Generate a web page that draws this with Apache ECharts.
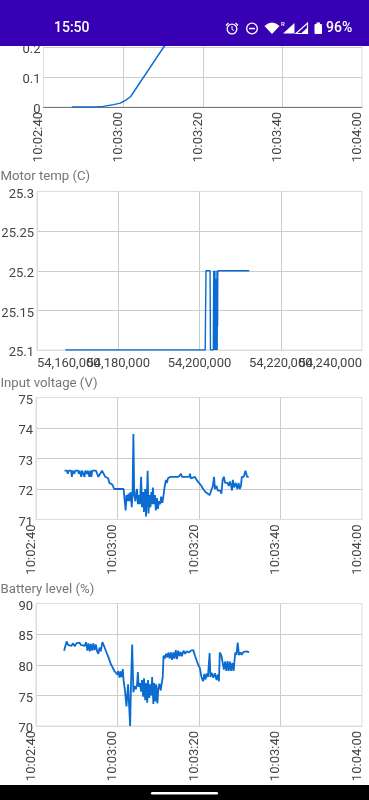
<!DOCTYPE html>
<html><head><meta charset="utf-8">
<style>html,body{margin:0;padding:0;background:#fff}#c{width:369px;height:800px}</style>
<script src="https://cdn.jsdelivr.net/npm/echarts@6/dist/echarts.min.js"></script>
</head><body><div id="c"></div>
<script>
const baseMs = 54160000;
const clockTicks = ['10:02:40','10:03:00','10:03:20','10:03:40','10:04:00'];
const msTicks = ['54,160,000','54,180,000','54,200,000','54,220,000','54,240,000'];
const titles = ['Motor temp (C)','Input voltage (V)','Battery level (%)'];

// [seconds after 10:02:40, value]
const topSeries = [[7.1,0],[13.4,0],[15,0.002],[17.6,0.008],[19.3,0.013],[20.6,0.022],[21.9,0.035],[30.2,0.2],[31,0.215],[36,0.31]];
const motorTemp = [[7,25.1],[41.4,25.1],[41.6,25.2],[42.6,25.2],[42.7,25.1],[43.4,25.1],[43.5,25.2],[43.65,25.1],[43.8,25.2],[43.9,25.1],[44,25.19],[44.05,25.1],[44.1,25.19],[44.15,25.1],[44.2,25.19],[44.25,25.1],[44.3,25.2],[44.35,25.1],[44.4,25.2],[44.45,25.13],[44.5,25.2],[52.25,25.2]];
const voltage = [[7,72.6],[7.6,72.6],[7.8,72.5],[8,72.6],[8.6,72.6],[8.8,72.4],[9,72.6],[9.4,72.5],[9.6,72.6],[10.3,72.6],[10.5,72.5],[10.7,72.6],[11.1,72.4],[11.3,72.6],[11.9,72.4],[12.1,72.6],[12.5,72.5],[12.7,72.6],[13.1,72.4],[13.3,72.6],[13.6,72.4],[13.8,72.6],[14.7,72.6],[15,72.5],[15.3,72.4],[15.7,72.45],[16.2,72.6],[17,72.4],[17.7,72.35],[18,72.2],[18.4,72.2],[18.7,72.15],[19,72.1],[19.2,72],[19.5,71.95],[20.2,72],[21.5,72],[21.7,71.7],[22,71.3],[22.2,71.8],[22.5,71.6],[22.7,71.85],[23,71.6],[23.2,71.9],[23.5,71.4],[23.7,71.9],[23.9,73.8],[24.1,71.8],[24.4,71.6],[24.6,71.9],[24.8,72.0],[25,71.5],[25.3,71.8],[25.5,71.5],[25.8,72.4],[26,71.4],[26.3,71.9],[26.5,71.25],[26.8,72],[27,71.1],[27.2,71.7],[27.4,72.6],[27.6,71.2],[27.9,71.8],[28.1,71.4],[28.3,71.9],[28.5,71.5],[28.7,72.05],[28.9,71.5],[29.2,71.8],[29.4,71.3],[29.7,71.7],[29.9,71.35],[30.2,71.6],[30.5,71.5],[30.7,71.75],[31,71.55],[31.2,71.7],[31.4,71.65],[31.6,72.1],[31.9,72.3],[32.1,72.2],[32.4,72.35],[33,72.4],[34.4,72.4],[34.6,72.35],[35,72.4],[35.4,72.4],[35.6,72.5],[35.8,72.4],[37.6,72.4],[37.8,72.5],[38,72.35],[39,72.4],[39.4,72.3],[40,72.2],[40.6,72.1],[41,72],[41.6,71.9],[42,71.85],[42.6,71.8],[43,71.95],[43.4,72.1],[43.7,72.4],[43.9,72],[44.3,72.1],[44.6,71.95],[45.2,71.95],[45.5,71.85],[45.8,72.3],[46.1,72.4],[46.4,72.2],[47,72.2],[47.3,72.1],[47.6,72.25],[47.9,72.1],[48.1,71.95],[48.3,72.3],[48.6,72.05],[49,72.2],[49.4,72],[49.7,72.2],[50,72],[50.3,72.1],[50.5,72.4],[51,72.4],[51.4,72.6],[51.8,72.4],[52.2,72.4]];
const battery = [[6.9,82.3],[7.5,83.8],[7.9,83.2],[8.3,83.5],[8.7,83.1],[9.1,83.5],[9.5,83],[9.9,83.5],[10.3,83.2],[10.7,83.6],[11.1,83.2],[11.5,83.5],[12,83.1],[12.3,83.7],[12.6,82.3],[12.9,83.5],[13.2,82.2],[13.5,83.4],[13.8,82.3],[14.1,83.5],[14.4,82.4],[14.7,83.3],[15,82.2],[15.3,81.8],[15.6,82.8],[15.9,82.2],[16.3,83.7],[16.8,82.9],[17.3,82],[17.8,81.2],[18.3,80.2],[18.7,79.7],[19,79.6],[19.3,78.9],[19.7,78.8],[20,78.4],[20.2,79],[20.5,77.9],[20.8,78.9],[21,78],[21.3,79.3],[21.5,77.4],[21.8,76],[22.2,73.2],[22.6,76.8],[23,77],[23.1,70],[23.3,76.5],[23.6,83.3],[23.9,75.5],[24.2,76.5],[24.5,76],[24.8,76.8],[25,78.8],[25.2,76.4],[25.5,77],[25.8,75.6],[26,77.5],[26.3,74.8],[26.5,77.8],[26.8,74.2],[27,77],[27.3,73.8],[27.5,77.5],[27.8,74.6],[28,76.8],[28.3,75],[28.5,78],[28.8,73.6],[29,77],[29.3,74],[29.5,76.8],[29.8,73.7],[30,76],[30.3,76.9],[30.6,75.8],[31,75.8],[31.1,78],[31.3,81.5],[31.6,81],[31.9,81.8],[32.2,81.2],[32.5,82],[32.8,81],[33.1,82],[33.4,80.8],[33.7,82],[34,81],[34.3,82.4],[34.6,80.9],[34.9,82.3],[35.2,81.4],[35.5,82.1],[35.8,81.4],[36.2,82.3],[36.6,81.8],[37,82.2],[37.5,82],[38,82.3],[38.6,82.4],[39,81.5],[39.8,80],[40.2,79.5],[40.6,78],[41,77.3],[41.3,78.5],[41.6,77.6],[41.9,78.6],[42.2,78],[42.4,78.3],[42.6,81.9],[42.8,78],[43.1,78.7],[43.5,77.9],[43.9,78.6],[44.3,77.5],[44.6,78.4],[44.9,77.3],[45.1,82],[45.5,81.5],[45.9,80],[46.1,79.2],[46.4,80.5],[46.7,79],[47,80.6],[47.3,79],[47.6,80.5],[47.9,79],[48.2,80.3],[48.5,79],[48.9,82],[49.2,81.6],[49.5,83.6],[49.8,81.6],[50.2,82],[50.5,81.6],[50.9,82.1],[51.2,81.8],[51.7,82.2],[52.3,82]];

const ink = '#444444', grid = '#cccccc', edge = '#dddddd', blue = '#0a6bd0';
const font = 'Roboto';
const layout = [
  {left:43.5, top:-43,   width:318.5, height:150,   min:0,    max:0.5,  interval:0.1,  data:topSeries, ticks:clockTicks, axisLine:'#777777', lw:1.4},
  {left:37,   top:191.5, width:325,   height:158.5, min:25.1, max:25.3, interval:0.05, data:motorTemp, ticks:msTicks,    axisLine:edge, lw:1.4},
  {left:36,   top:397.5, width:326,   height:122,   min:71,   max:75,   interval:1,    data:voltage,   ticks:clockTicks, axisLine:edge, lw:1.8},
  {left:36,   top:603.5, width:326,   height:122.5, min:70,   max:90,   interval:5,    data:battery,   ticks:clockTicks, axisLine:edge, lw:1.8}
];
const tickIdx = v => Math.round((v-baseMs)/20000);
const flatLabel = {show:true,color:ink,fontSize:13,fontFamily:font,margin:7,hideOverlap:false,alignMinLabel:'left',alignMaxLabel:'right'};

const xAxes = layout.map((g,i) => ({
  type:'value', gridIndex:i, position:'bottom', min:baseMs, max:baseMs+80000, interval:20000,
  axisLine:{show:true,lineStyle:{color:g.axisLine,width:1},onZero:false},
  axisTick:{show:false},
  splitLine:{show:true,showMinLine:false,showMaxLine:false,lineStyle:{color:grid,width:1}},
  axisLabel: g.ticks===msTicks
    ? Object.assign({},flatLabel,{formatter:v => tickIdx(v)%2===0 ? g.ticks[tickIdx(v)] : ''})
    : {show:true,color:ink,fontSize:13,fontFamily:font,margin:5,rotate:90,verticalAlign:'bottom',lineHeight:9,hideOverlap:false,showMinLabel:true,showMaxLabel:true,
       formatter:v => g.ticks[tickIdx(v)]}
}));
// second bottom axis on the motor chart: carries the labels that overlap the end labels
xAxes.push({
  type:'value', gridIndex:1, position:'bottom', min:baseMs, max:baseMs+80000, interval:20000,
  axisLine:{show:false}, axisTick:{show:false}, splitLine:{show:false},
  axisLabel:Object.assign({},flatLabel,{formatter:v => tickIdx(v)%2===1 ? msTicks[tickIdx(v)] : ''})
});

const option = {
  animation:false,
  backgroundColor:'#fff',
  textStyle:{fontFamily:font},
  grid: layout.map(g => ({left:g.left,top:g.top,width:g.width,height:g.height,outerBoundsMode:'none',containLabel:false,show:true,borderColor:edge,borderWidth:1,backgroundColor:'#fff'})),
  xAxis: xAxes,
  yAxis: layout.map((g,i) => ({
    type:'value', gridIndex:i, min:g.min, max:g.max, interval:g.interval,
    axisLine:{show:true,lineStyle:{color:edge,width:1}},
    axisTick:{show:false},
    splitLine:{show:true,showMinLine:false,showMaxLine:false,lineStyle:{color:grid,width:1}},
    axisLabel:{show:true,color:ink,fontSize:13,fontFamily:font,margin:3,verticalAlign:'top',lineHeight:6,hideOverlap:false,showMinLabel:true,showMaxLabel:true,
      formatter:v => String(+v.toFixed(2))}
  })),
  series: layout.map((g,i) => ({
    type:'line', xAxisIndex:i, yAxisIndex:i, showSymbol:false, symbol:'none', smooth:false, z:5,
    lineStyle:{color:blue,width:g.lw}, silent:true, clip:true,
    data:g.data.map(p => [baseMs+p[0]*1000, p[1]])
  })),
  graphic:[
    {type:'text',z:50,left:0.5,top:170,style:{text:titles[0],fill:'#757575',font:'13.2px Roboto'}},
    {type:'text',z:50,left:0.5,top:377,style:{text:titles[1],fill:'#757575',font:'13.2px Roboto'}},
    {type:'text',z:50,left:0.5,top:583,style:{text:titles[2],fill:'#757575',font:'13.2px Roboto'}},
    {type:'rect',z:100,shape:{x:0,y:0,width:369,height:46},style:{fill:'#3700B3'}},
    {type:'text',z:101,left:54,top:21,style:{text:'15:50',fill:'#fff',font:'500 14px Roboto'}},
    {type:'ring',z:101,shape:{cx:232,cy:29,r:5.5,r0:4.2},style:{fill:'#fff'}},
    {type:'polyline',z:101,shape:{points:[[232,26],[232,29.5],[234,30.5]]},style:{stroke:'#fff',lineWidth:1,fill:null}},
    {type:'polyline',z:101,shape:{points:[[226,25.5],[228.5,23]]},style:{stroke:'#fff',lineWidth:1.3,fill:null}},
    {type:'polyline',z:101,shape:{points:[[238,25.5],[235.5,23]]},style:{stroke:'#fff',lineWidth:1.3,fill:null}},
    {type:'ring',z:101,shape:{cx:252,cy:28.5,r:6,r0:4.7},style:{fill:'#fff'}},
    {type:'rect',z:101,shape:{x:249,y:27.8,width:6,height:1.5},style:{fill:'#fff'}},
    {type:'polygon',z:101,shape:{points:[[264.5,26],[268,23.5],[272,22.5],[276,23.5],[279.5,26],[272,34]]},style:{fill:'#fff'}},
    {type:'text',z:101,left:281,top:21,style:{text:'R',fill:'#fff',font:'500 6px Roboto'}},
    {type:'polygon',z:101,shape:{points:[[283,33.5],[294.5,33.5],[294.5,23]]},style:{fill:'#fff'}},
    {type:'polygon',z:101,shape:{points:[[296,33.5],[307.5,33.5],[307.5,23]]},style:{fill:'none',stroke:'#fff',lineWidth:1.2}},
    {type:'polygon',z:101,shape:{points:[[301,33.5],[307.5,33.5],[307.5,27.5]]},style:{fill:'#fff'}},
    {type:'rect',z:101,shape:{x:314.5,y:24,width:7.5,height:10,r:1},style:{fill:'#fff'}},
    {type:'rect',z:101,shape:{x:316.5,y:22.5,width:3.5,height:2},style:{fill:'#fff'}},
    {type:'text',z:101,left:326,top:21,style:{text:'96%',fill:'#fff',font:'500 14px Roboto'}},
    {type:'rect',z:101,shape:{x:0,y:785,width:369,height:15},style:{fill:'#000'}},
    {type:'rect',z:102,shape:{x:151,y:792,width:67,height:2.5,r:1.2},style:{fill:'#fff'}}
  ]
};
const chart = echarts.init(document.getElementById('c'),null,{renderer:'canvas',width:369,height:800});
chart.setOption(option);
</script></body></html>
